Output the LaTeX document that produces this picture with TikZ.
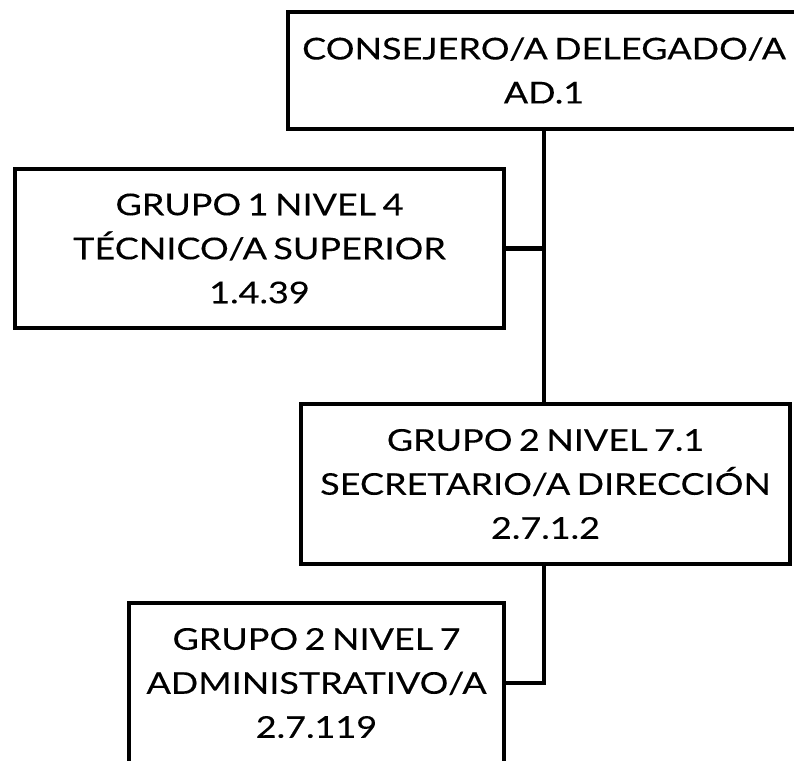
\documentclass[tikz,border=0pt]{standalone}
\usepackage{fontspec}
\setmainfont{Lato}[FakeStretch=1.2, FakeBold=0.2, WordSpace=0.7]
\usetikzlibrary{positioning}

\begin{document}
\begin{tikzpicture}[
		x=1pt, y=-1pt,
		line width=4.5pt,
		post node/.style={draw, line width=4.5pt, align=center, inner sep=0pt,
			font=\fontsize{30}{44}\selectfont, minimum height=160pt},
		link/.style={line width=4.5pt}
		]
		\useasboundingbox (0,0) rectangle (794,760);
		
		% posts
		\node[post node, minimum width=512pt, minimum height=117pt] (ceo) at (544,70.5) {CONSEJERO/A DELEGADO/A\\AD.1};
		\node[post node, minimum width=489pt, minimum height=159pt] (tec) at (259.5,248.5) {GRUPO 1 NIVEL 4\\TÉCNICO/A SUPERIOR\\1.4.39};
		\node[post node, minimum width=489pt] (sec) at (545.5,484) {GRUPO 2 NIVEL 7.1\\SECRETARIO/A DIRECCIÓN\\2.7.1.2};
		\node[post node, minimum width=375pt] (adm) at (316.5,683) {GRUPO 2 NIVEL 7\\ADMINISTRATIVO/A\\2.7.119};
		
		% links
		\draw[link] (ceo.south) -- (ceo.south |- sec.north);
		\draw[link] (tec.east) -- (tec.east -| ceo.south);
		\draw[link] (ceo.south |- sec.south) |- (adm.east);
		
	\end{tikzpicture}
\end{document}
